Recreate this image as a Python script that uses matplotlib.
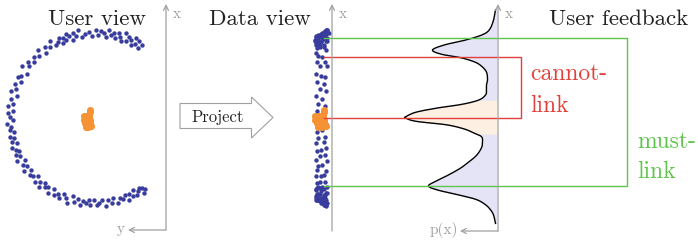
import matplotlib
matplotlib.use("Agg")
import matplotlib.pyplot as plt
import numpy as np
from matplotlib.patches import Polygon

# ring ("C" shaped cluster): angle in degrees and radius
ring_angle = [
    57, 58.5, 60, 61.5, 63, 64, 65.5, 67, 68, 70,
    71.5, 73, 74, 76, 77.5, 79, 81, 82, 84, 86,
    88, 89.5, 92, 94, 96.5, 99, 101, 103, 104.5, 106,
    107.5, 109, 110.5, 112, 113, 114.5, 116, 118, 120, 122.5,
    125, 127, 130, 132, 135, 137.5, 140, 142, 144.5, 147,
    150, 152, 154, 157, 160, 162, 164, 167, 170, 172,
    175, 177, 179, 181.5, 184, 186, 188, 190, 192.5, 194,
    196, 198, 200, 202, 203.5, 205, 207, 209, 211, 213,
    215, 217, 219, 221, 223, 225.5, 227, 229, 231, 232.5,
    234, 236, 238, 240, 242, 244, 246, 248, 250, 252,
    254, 256, 258, 260, 262, 264, 265.5, 267, 269, 271,
    273, 275, 277, 279, 281, 283, 285, 287, 289, 291,
    292.5, 294, 296, 297.5, 299, 300.5, 302, 303, 304, 305,
]
ring_radius = [
    1.02, 0.97, 1.04, 0.99, 1.05, 0.96, 1.01, 1.03, 0.98, 1.06,
    0.95, 1.00, 1.04, 0.97, 1.02, 0.99, 1.05, 0.96, 1.01, 1.03,
    0.98, 1.04, 0.96, 1.02, 1.00, 0.97, 1.05, 0.99, 1.03, 0.95,
    1.01, 1.04, 0.98, 1.02, 0.96, 1.03, 1.00, 0.97, 1.05, 0.99,
    1.02, 0.96, 1.04, 0.98, 1.01, 0.97, 1.03, 0.99, 1.05, 0.96,
    1.00, 1.03, 0.97, 1.02, 0.99, 1.04, 0.96, 1.01, 0.98, 1.03,
    0.97, 1.02, 1.00, 0.96, 1.04, 0.99, 1.01, 0.97, 1.03, 0.98,
    1.02, 0.96, 1.04, 1.00, 0.97, 1.03, 0.99, 1.05, 0.96, 1.01,
    0.98, 1.04, 0.97, 1.02, 1.00, 0.96, 1.03, 0.99, 1.05, 0.97,
    1.01, 0.98, 1.04, 0.96, 1.02, 0.99, 1.03, 0.97, 1.00, 1.05,
    0.96, 1.02, 0.98, 1.04, 0.99, 1.01, 0.97, 1.03, 0.96, 1.02,
    1.00, 0.97, 1.04, 0.98, 1.02, 0.96, 1.03, 0.99, 1.01, 0.97,
    1.04, 0.98, 1.02, 0.96, 1.03, 1.00, 0.97, 1.05, 0.99, 1.02,
]

# small central cluster
blob_x = [-0.06, -0.06, -0.07, -0.13, -0.10, -0.07, -0.13, -0.10,
          -0.06, -0.12, -0.09, -0.06, -0.11, -0.08, -0.05]
blob_y = [0.10, 0.07, 0.04, 0.02, 0.02, 0.01, -0.02, -0.02,
          -0.02, -0.06, -0.06, -0.06, -0.10, -0.10, -0.09]

# estimated density p(x) of the projection
density_x = [1.27, 1.15, 1.04, 0.98, 0.92, 0.86, 0.80, 0.75, 0.71, 0.66,
             0.61, 0.54, 0.45, 0.39, 0.33, 0.27, 0.21, 0.16, 0.12, 0.07,
             0.02, 0.00, -0.04, -0.08, -0.13, -0.18, -0.22, -0.28, -0.35,
             -0.44, -0.52, -0.59, -0.67, -0.74, -0.80, -0.85, -0.91, -0.96,
             -1.02, -1.08, -1.14, -1.24]
density_p = [0.01, 0.03, 0.07, 0.14, 0.30, 0.52, 0.64, 0.55, 0.36, 0.22,
             0.15, 0.10, 0.09, 0.10, 0.10, 0.11, 0.18, 0.35, 0.58, 0.80,
             0.90, 0.91, 0.80, 0.50, 0.32, 0.22, 0.15, 0.14, 0.15,
             0.20, 0.28, 0.36, 0.48, 0.60, 0.68, 0.58, 0.36, 0.20,
             0.11, 0.06, 0.03, 0.01]
orange_band = [-0.19, 0.21]

W, H = 698, 242
BLUE = "#383c9c"
ORANGE = "#f59233"
GRAY = "#a0a0a0"
GREEN = "#5cc54a"
RED = "#e2403a"
SERIF = "cmr10"


def px_axes(fig, left, top, width, height, **kw):
    """add axes placed in pixel units measured from the top left corner"""
    return fig.add_axes([left / W, 1 - (top + height) / H, width / W, height / H], **kw)


def smooth(xs, ys, n=10):
    """catmull-rom resampling of a polyline, only for drawing"""
    pts = np.column_stack([xs, ys]).astype(float)
    pts = np.vstack([pts[0], pts, pts[-1]])
    out = []
    t = np.linspace(0, 1, n, endpoint=False)[:, None]
    for i in range(1, len(pts) - 2):
        p0, p1, p2, p3 = pts[i - 1], pts[i], pts[i + 1], pts[i + 2]
        seg = 0.5 * ((2 * p1) + (-p0 + p2) * t
                     + (2 * p0 - 5 * p1 + 4 * p2 - p3) * t ** 2
                     + (-p0 + 3 * p1 - 3 * p2 + p3) * t ** 3)
        out.append(seg)
    out.append(pts[-2][None, :])
    out = np.vstack(out)
    return out[:, 0], out[:, 1]


def axis_arrow(ax, start, tip):
    ax.annotate("", xy=tip, xytext=start,
                arrowprops=dict(arrowstyle="->", color=GRAY, lw=0.9,
                                shrinkA=0, shrinkB=0, mutation_scale=9))


def main() -> None:
    fig = plt.figure(figsize=(W / 100, H / 100), dpi=100)

    angle = np.radians(ring_angle)
    radius = np.array(ring_radius)
    ring_x = radius * np.cos(angle)
    ring_y = radius * np.sin(angle)
    ylim = (-1.35, 1.35)

    # user view
    ax_user = px_axes(fig, 1.5, 3.25, 170, 229.5)
    ax_user.scatter(ring_x, ring_y, s=10, color=BLUE, linewidths=0)
    ax_user.scatter(blob_x, blob_y, s=26, color=ORANGE, linewidths=0)
    ax_user.set_xlim(-1.1, 0.9)
    ax_user.set_ylim(*ylim)
    ax_user.axis("off")

    # data view (projection on x)
    ax_data = px_axes(fig, 304, 3.25, 34, 229.5)
    ax_data.scatter((radius - 1.0) * 1.5, ring_y, s=10, color=BLUE, linewidths=0)
    bx = np.array(blob_x)
    ax_data.scatter((bx - bx.mean()) * 1.5, blob_y, s=26, color=ORANGE, linewidths=0)
    ax_data.set_xlim(-0.2, 0.2)
    ax_data.set_ylim(*ylim)
    ax_data.axis("off")

    # density
    ax_dens = px_axes(fig, 396.5, 3.25, 100, 229.5)
    sx, sp = smooth(density_x, density_p)
    ax_dens.fill_betweenx(sx, sp, 0, color="#e4e4f6", linewidth=0)
    band = (sx >= orange_band[0]) & (sx <= orange_band[1])
    ax_dens.fill_betweenx(sx, sp, 0, where=band, color="#fdf0e2", linewidth=0)
    ax_dens.plot(sp, sx, color="black", lw=1.0)
    ax_dens.set_xlim(1.0, 0.0)
    ax_dens.set_ylim(*ylim)
    ax_dens.axis("off")

    # overlay in pixel units
    ax = fig.add_axes([0, 0, 1, 1], zorder=5)
    ax.set_facecolor("none")
    ax.set_xlim(0, W)
    ax.set_ylim(H, 0)
    ax.axis("off")

    axis_arrow(ax, (166, 230), (166, 4))
    axis_arrow(ax, (166, 230), (128, 230))
    axis_arrow(ax, (332, 231), (332, 4))
    axis_arrow(ax, (498, 231), (498, 4))
    axis_arrow(ax, (498, 231), (460, 231))

    lab = dict(color=GRAY, fontsize=11, family=SERIF, va="center")
    ax.text(173, 14, "x", ha="left", **lab)
    ax.text(125, 229, "y", ha="right", **lab)
    ax.text(339, 14, "x", ha="left", **lab)
    ax.text(505, 14, "x", ha="left", **lab)
    ax.text(458, 230, "p(x)", ha="right", **lab)

    title = dict(fontsize=16.5, family=SERIF, color="#222222", va="baseline")
    ax.text(48, 25, "User view", ha="left", **title)
    ax.text(209, 25, "Data view", ha="left", **title)
    ax.text(549, 25, "User feedback", ha="left", **title)

    arrow = Polygon([(180, 103.5), (251.5, 103.5), (251.5, 97), (273, 117.5),
                     (251.5, 138), (251.5, 128.5), (180, 128.5)],
                    closed=True, facecolor="white", edgecolor=GRAY, lw=0.8)
    ax.add_patch(arrow)
    ax.text(218, 117, "Project", ha="center", va="center",
            fontsize=12, family=SERIF, color="#222222")

    ax.plot([324, 627, 627, 324], [38, 38, 186, 186], color=GREEN, lw=1.0)
    ax.plot([324, 521, 521, 324], [57, 57, 118, 118], color=RED, lw=1.0)

    big = dict(fontsize=17, family=SERIF, va="baseline", ha="left")
    ax.text(530, 80.5, "cannot-", color=RED, **big)
    ax.text(530, 111.5, "link", color=RED, **big)
    ax.text(637, 148, "must-", color=GREEN, **big)
    ax.text(637, 178, "link", color=GREEN, **big)

    fig.savefig("out.png", dpi=100)


if __name__ == "__main__":
    main()
